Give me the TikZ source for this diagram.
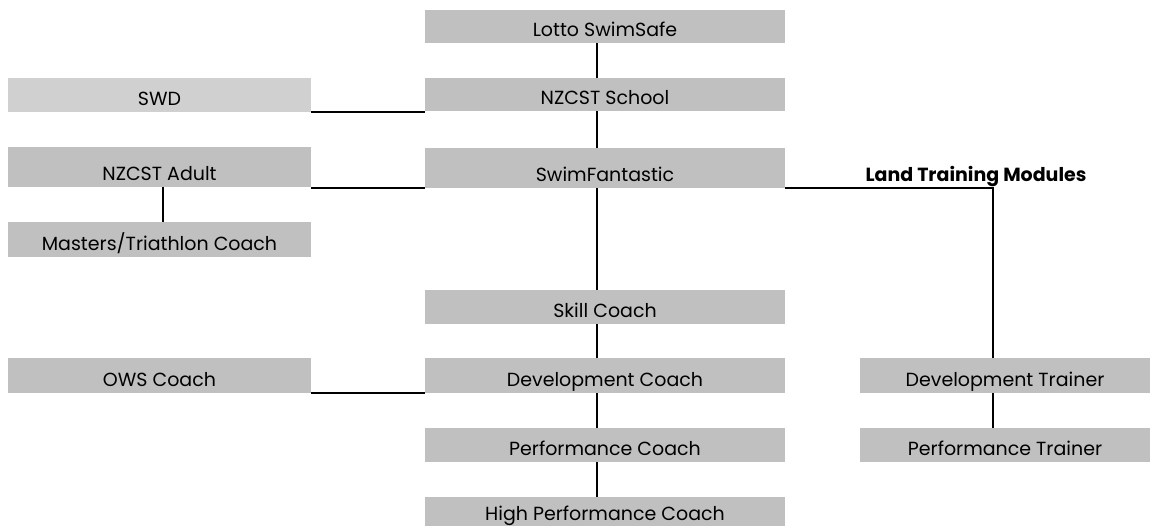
\documentclass[tikz,border=0pt]{standalone}
\usepackage{fontspec}
\setmainfont{Poppins}
\usepackage{tikz}
\newcommand{\MidX}{605}
\newcommand{\LeftX}{159.5}
\newcommand{\RightX}{1005}
\definecolor{boxgray}{HTML}{C0C0C0}
\definecolor{lightgray}{HTML}{D0D0D0}
\tikzset{
  box/.style={fill=boxgray, inner sep=0pt, font=\fontsize{19}{21}\selectfont,
    text depth=6pt, text height=#1-6pt, minimum height=#1},
  box/.default=33pt,
  midbox/.style={box=#1, minimum width=360},
  sidebox/.style={box=#1, minimum width=303},
  rightbox/.style={box=#1, minimum width=290},
  link/.style={line width=1.5pt}
}

\begin{document}
\begin{tikzpicture}[x=1pt,y=-1pt]
\useasboundingbox (0,0) rectangle (1152,526);

% middle column
\node[midbox=33pt] (lotto) at (\MidX,26.5) {Lotto SwimSafe};
\node[midbox=33pt] (school) at (\MidX,94.5) {NZCST School};
\node[midbox=40pt] (fant) at (\MidX,168) {SwimFantastic};
\node[midbox=34pt] (skill) at (\MidX,307) {Skill Coach};
\node[midbox=35pt] (devcoach) at (\MidX,375.5) {Development Coach};
\node[midbox=34pt] (perfcoach) at (\MidX,445) {Performance Coach};
\node[midbox=30pt] (hpcoach) at (\MidX,512) {High Performance Coach};

% left column
\node[sidebox=34pt, fill=lightgray] (swd) at (\LeftX,95) {SWD};
\node[sidebox=40pt] (adult) at (\LeftX,167) {NZCST Adult};
\node[sidebox=35pt] (masters) at (\LeftX,239.5) {Masters/Triathlon Coach};
\node[sidebox=35pt] (ows) at (\LeftX,375.5) {OWS Coach};

% right column
\node[anchor=base, font=\fontsize{19}{21}\selectfont\bfseries] (land) at (976,182) {Land Training Modules};
\node[rightbox=35pt] (devtrainer) at (\RightX,375.5) {Development Trainer};
\node[rightbox=34pt] (perftrainer) at (\RightX,445) {Performance Trainer};

\draw[link] ([xshift=-8]lotto.south) -- ([xshift=-8]school.north);
\draw[link] ([xshift=-8]school.south) -- ([xshift=-8]fant.north);
\draw[link] ([xshift=-8]fant.south) -- ([xshift=-8]skill.north);
\draw[link] ([xshift=-8]skill.south) -- ([xshift=-8]devcoach.north);
\draw[link] ([xshift=-8]devcoach.south) -- ([xshift=-8]perfcoach.north);
\draw[link] ([xshift=-8]perfcoach.south) -- ([xshift=-8]hpcoach.north);

\draw[link] (swd.south east) -- (swd.south east -| school.west);
\draw[link] (fant.south west) -- (fant.south west -| adult.east);
\draw[link] ([xshift=3.5]adult.south) -- ([xshift=3.5]masters.north);
\draw[link] (ows.south east) -- (devcoach.south west);

\draw[link] (fant.south east) -| ([xshift=-12]devtrainer.north);
\draw[link] ([xshift=-12]devtrainer.south) -- ([xshift=-12]perftrainer.north);

\end{tikzpicture}
\end{document}
